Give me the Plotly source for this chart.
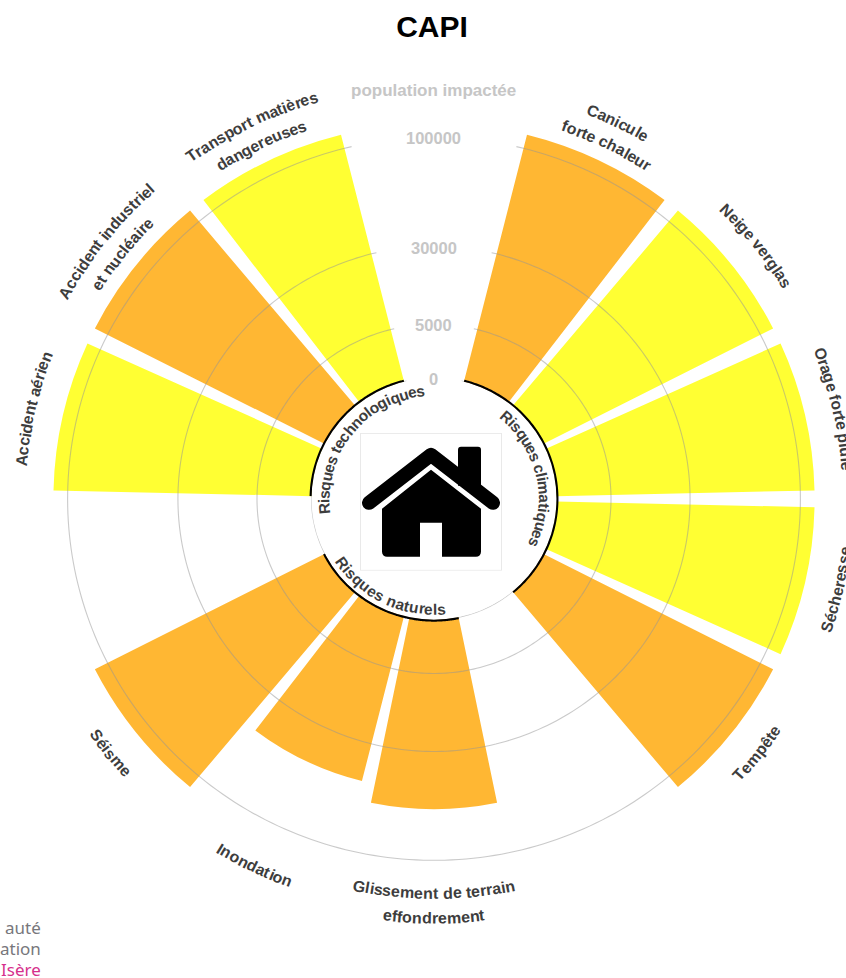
import base64
import math

import numpy as np
import plotly.graph_objects as go

# 14 slots round the circle, blank names are the empty slots
categories = ["", "Canicule|forte chaleur", "Neige verglas", "Orage forte pluie", "Sécheresse", "Tempête", "",
              "Glissement de terrain|effondrement", "Inondation", "Séisme", "",
              "Accident aérien", "Accident industriel|et nucléaire", "Transport matières|dangereuses"]
population = [None, 112000, 112000, 112000, 112000, 112000, None,
              62000, 50000, 112000, None,
              112000, 112000, 112000]
levels = [None, "o", "y", "y", "y", "o", None, "o", "o", "o", None, "y", "o", "y"]
tick_values = [0, 5000, 30000, 100000]
groups = ["Risques climatiques", "Risques naturels", "Risques technologiques"]
group_slots = [(1, 5), (7, 9), (11, 13)]

level_colors = {"y": "rgba(255,255,0,0.8)", "o": "rgba(255,165,0,0.8)"}
GREY_TEXT = "#c6c6c6"
LABEL_COLOR = "#3d3d3d"
FONT = "Liberation Sans"

W, H = 846, 978
# the reference chart is slightly squashed vertically, so draw taller and scale the page down
SQUASH = 0.9866
H_CANVAS = H / SQUASH
CX, CY = 434, 499
R_IN = 122.5
PX_PER_UNIT = 244 / math.sqrt(100000)  # sqrt scale
R_MAX = math.sqrt(115000)
R_OUT = R_IN + R_MAX * PX_PER_UNIT

STEP = 360 / len(categories)
BAR_W = STEP * 0.9
theta = [i * STEP for i in range(len(categories))]

# Arial bold advance widths, needed to lay text along a circle
WIDTHS = dict(zip("abcdefghijklmnopqrstuvwxyzéèêâ", [556, 611, 556, 611, 556, 333, 611, 611, 278, 278, 556, 278, 889, 611,
                                                  611, 611, 611, 389, 556, 333, 611, 556, 778, 556, 556, 500, 556, 556, 556, 556]))
WIDTHS.update({" ": 278, "A": 722, "C": 722, "G": 778, "I": 278, "N": 722, "O": 778, "R": 722, "S": 667, "T": 611})


def curved_text(text, angle, radius, size=16.0):
    """One rotated annotation per letter, plotly has no text on a path."""
    flip = 90 < angle % 360 < 270
    widths = [WIDTHS.get(c, 556) * size / 1000 for c in text]
    pos = -sum(widths) / 2
    out = []
    for c, w in zip(text, widths):
        mid = pos + w / 2
        pos += w
        a = angle + math.degrees(mid / radius) * (-1 if flip else 1)
        rad = math.radians(a)
        x = CX + radius * math.sin(rad)
        y = CY - radius * math.cos(rad) * SQUASH
        if c == " ":
            continue
        out.append(dict(text=c, x=x / W, y=1 - y / H, xref="paper", yref="paper", showarrow=False,
                        xanchor="center", yanchor="middle", textangle=a - 180 if flip else a,
                        font=dict(family=FONT, size=size, color=LABEL_COLOR, weight="bold")))
    return out


fig = go.Figure()

for lv, color in level_colors.items():
    idx = [i for i, l in enumerate(levels) if l == lv]
    fig.add_trace(go.Barpolar(
        r=[math.sqrt(population[i]) for i in idx],
        theta=[theta[i] for i in idx],
        width=BAR_W,
        marker=dict(color=color, line=dict(width=0)),
        showlegend=False,
    ))

# grid circles stop short of the top, the labels sit in that gap
arc = np.linspace(13, 347, 300)
for t in tick_values:
    fig.add_trace(go.Scatterpolar(
        r=[math.sqrt(t)] * len(arc), theta=arc, mode="lines",
        line=dict(color="rgba(150,150,150,0.5)", width=1.1),
        showlegend=False, cliponaxis=False,
    ))

for first, last in group_slots:
    a = np.linspace(theta[first] - BAR_W / 2, theta[last] + BAR_W / 2, 200)
    fig.add_trace(go.Scatterpolar(
        r=[0] * len(a), theta=a, mode="lines",
        line=dict(color="black", width=4),
        showlegend=False, cliponaxis=False,
    ))

cy_canvas = CY / SQUASH
fig.update_layout(
    width=W, height=H_CANVAS,
    margin=dict(l=0, r=0, t=0, b=0),
    paper_bgcolor="white",
    title=dict(text="<b>CAPI</b>", x=432 / W, y=1 - 27 / H, xanchor="center", yanchor="middle",
               font=dict(family=FONT, size=30, color="black")),
    polar=dict(
        domain=dict(x=[(CX - R_OUT) / W, (CX + R_OUT) / W],
                    y=[1 - (cy_canvas + R_OUT) / H_CANVAS, 1 - (cy_canvas - R_OUT) / H_CANVAS]),
        hole=R_IN / R_OUT,
        bgcolor="rgba(0,0,0,0)",
        radialaxis=dict(range=[0, R_MAX], visible=False),
        angularaxis=dict(direction="clockwise", rotation=90, visible=False),
    ),
)

notes = [dict(text="population impactée", x=433 / W, y=1 - 90 / H, xref="paper", yref="paper", showarrow=False,
              xanchor="center", yanchor="middle",
              font=dict(family=FONT, size=17, color=GREY_TEXT, weight="bold"))]

# tick labels sit centred on their grid circle
for t in tick_values:
    tick_y = CY - (R_IN + math.sqrt(t) * PX_PER_UNIT) * SQUASH + 1
    notes.append(dict(text=str(t), x=CX / W, y=1 - tick_y / H, xref="paper", yref="paper", showarrow=False,
                      xanchor="center", yanchor="middle",
                      font=dict(family=FONT, size=16.5, color=GREY_TEXT, weight="bold")))

# logo scraps, cut by the page edge in the original
for txt, y, col in [("auté", 928, "#77777c"), ("ation", 949, "#77777c"), ("Isère", 970, "#d6308c")]:
    notes.append(dict(text=txt, x=42 / W, y=1 - y / H, xref="paper", yref="paper", showarrow=False,
                      xanchor="right", yanchor="middle", borderpad=0,
                      font=dict(family="Noto Sans", size=17, color=col)))

# radius of each line of the outer labels, top line first
label_radii = {1: [424, 400], 2: [414], 3: [414], 4: [414], 5: [414], 7: [400, 425], 8: [414], 9: [414],
               11: [414], 12: [424, 400], 13: [424, 400]}
for i, rads in label_radii.items():
    for line, rad in zip(categories[i].split("|"), rads):
        notes += curved_text(line, theta[i], rad)

for name, (first, last), rad in zip(groups, group_slots, [110, 112, 110]):
    notes += curved_text(name, (theta[first] + theta[last]) / 2, rad, size=15.5)

fig.update_layout(annotations=notes)

house = """<svg xmlns="http://www.w3.org/2000/svg" viewBox="360 433 142 138">
<rect x="360.5" y="433.5" width="141" height="137" fill="white" stroke="#e9e9e9"/>
<path d="M458 450a3 3 0 0 1 3-3h17a3 3 0 0 1 3 3v36h-23z" fill="black"/>
<path d="M369 503L431 455L493 503" fill="none" stroke="black" stroke-width="14" stroke-linecap="round" stroke-linejoin="round"/>
<path d="M431 470L481 509V552a5 5 0 0 1-5 5H442V523H420V557H387a5 5 0 0 1-5-5V509z" fill="black"/>
</svg>"""
fig.add_layout_image(dict(
    source="data:image/svg+xml;base64," + base64.b64encode(house.encode()).decode(),
    xref="paper", yref="paper", x=360 / W, y=1 - 433 / H, sizex=142 / W, sizey=138 / H,
    xanchor="left", yanchor="top", sizing="stretch", layer="above",
))

squash_js = (
    "document.body.style.margin='0';document.body.style.overflow='hidden';"
    "var gd=document.querySelector('.plotly-graph-div');"
    f"gd.style.transformOrigin='0 0';gd.style.transform='scaleY({SQUASH})';"
)
fig.write_html("out.html", post_script=squash_js, config=dict(displayModeBar=False))
